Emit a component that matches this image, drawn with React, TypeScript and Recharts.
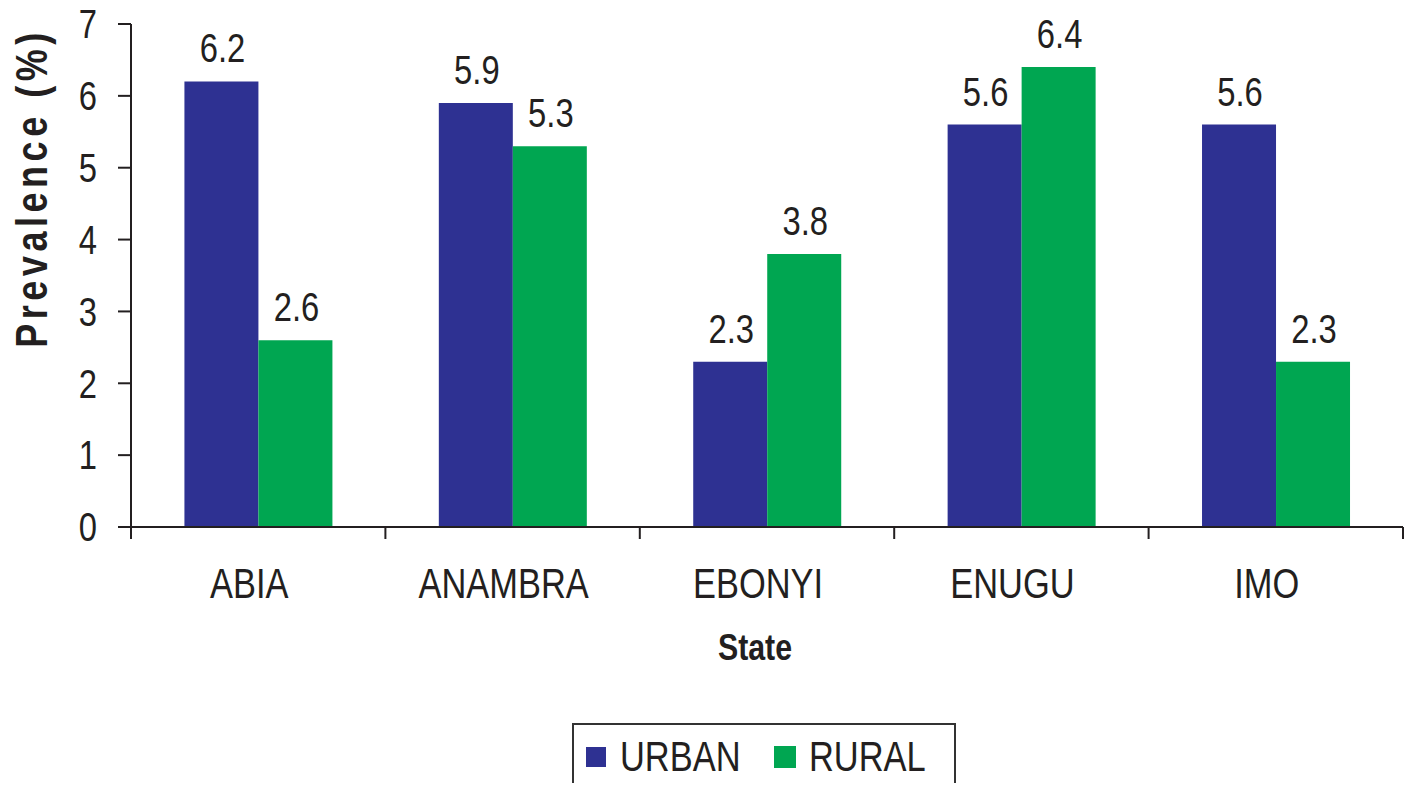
import { BarChart, Bar, XAxis, YAxis, LabelList } from "recharts";

const categories = ["ABIA", "ANAMBRA", "EBONYI", "ENUGU", "IMO"];
const urbanValues = [6.2, 5.9, 2.3, 5.6, 5.6];
const ruralValues = [2.6, 5.3, 3.8, 6.4, 2.3];
const yTicks = [0, 1, 2, 3, 4, 5, 6, 7];

const chartData = categories.map((state, i) => ({
  state,
  urban: urbanValues[i],
  rural: ruralValues[i],
}));

const INK = "#231f20";
const URBAN = "#2e3192";
const RURAL = "#00a651";
const FONT = "'Liberation Sans', Arial, sans-serif";
// the original uses a condensed face, so text is squeezed horizontally
const SQUEEZE = 0.82;

const Squeezed = ({ x, y, anchor = "middle", dy, size, bold, rotate, spacing, children }: any) => (
  <text
    transform={`translate(${x}, ${y})${rotate ? ` rotate(${rotate})` : ""} scale(${SQUEEZE}, 1)`}
    textAnchor={anchor}
    dy={dy}
    fill={INK}
    fontSize={size}
    fontWeight={bold ? "bold" : "normal"}
    letterSpacing={spacing}
    fontFamily={FONT}
  >
    {children}
  </text>
);

const StateTick = (props: any) => {
  const { x, y, payload, index, visibleTicksCount, width } = props;
  const half = payload.offset ?? width / (2 * visibleTicksCount);
  return (
    <g>
      <line x1={x - half} x2={x - half} y1={y} y2={y + 12} stroke={INK} strokeWidth={2} />
      {index === visibleTicksCount - 1 && (
        <line x1={x + half} x2={x + half} y1={y} y2={y + 12} stroke={INK} strokeWidth={2} />
      )}
      <Squeezed x={x - 9} y={y + 41} dy="0.71em" size={42}>
        {payload.value}
      </Squeezed>
    </g>
  );
};

const ValueTick = (props: any) => {
  const { x, y, payload } = props;
  return (
    <Squeezed x={x} y={y} anchor="end" dy="0.355em" size={40}>
      {payload.value}
    </Squeezed>
  );
};

const BarValue = (props: any) => {
  const { x, y, width, value } = props;
  return (
    <Squeezed x={x + width / 2 + 1} y={y - 19} size={40}>
      {value}
    </Squeezed>
  );
};

const YTitle = (props: any) => {
  const { viewBox } = props;
  return (
    <Squeezed x={viewBox.x + 39} y={viewBox.y + 164} rotate={-90} size={44} bold spacing={5.5}>
      Prevalence (%)
    </Squeezed>
  );
};

const XTitle = (props: any) => {
  const { viewBox } = props;
  return (
    <Squeezed x={viewBox.x + viewBox.width / 2 - 12} y={viewBox.y + 133} size={37} bold>
      State
    </Squeezed>
  );
};

const legendItems = [
  { name: "URBAN", color: URBAN, swatch: 12, text: 46, size: 20 },
  { name: "RURAL", color: RURAL, swatch: 200, text: 235, size: 22 },
];

const LegendBox = () => (
  <div
    style={{
      position: "absolute",
      left: 564,
      top: 715,
      width: 384,
      height: 90,
      border: "2px solid #333",
      boxSizing: "border-box",
      fontFamily: FONT,
      fontSize: 42,
      color: INK,
    }}
  >
    {legendItems.map((item) => (
      <div key={item.name}>
        <span
          style={{
            position: "absolute",
            left: item.swatch,
            top: 32 - item.size / 2,
            width: item.size,
            height: item.size,
            background: item.color,
          }}
        />
        <span
          style={{
            position: "absolute",
            left: item.text,
            top: 32,
            lineHeight: "48px",
            marginTop: -24,
            whiteSpace: "nowrap",
            transform: `scaleX(${SQUEEZE})`,
            transformOrigin: "left center",
          }}
        >
          {item.name}
        </span>
      </div>
    ))}
  </div>
);

export default function App() {
  return (
    <div style={{ position: "relative", width: 1406, height: 783, marginBottom: -8, overflow: "hidden", background: "#fff" }}>
      <BarChart
        width={1406}
        height={783}
        data={chartData}
        margin={{ top: 16, right: 11, left: 0, bottom: 0 }}
        barCategoryGap="21%"
        barGap={0}
      >
        <XAxis
          dataKey="state"
          height={264}
          stroke={INK}
          strokeWidth={2}
          tickLine={false}
          tickSize={0}
          tickMargin={0}
          interval={0}
          tick={<StateTick />}
          label={<XTitle />}
        />
        <YAxis
          width={123}
          domain={[0, 7]}
          ticks={yTicks}
          interval={0}
          stroke={INK}
          strokeWidth={2}
          tickSize={13}
          tickMargin={21}
          tick={<ValueTick />}
          label={<YTitle />}
        />
        <Bar dataKey="urban" name="URBAN" fill={URBAN} isAnimationActive={false}>
          <LabelList dataKey="urban" content={<BarValue />} />
        </Bar>
        <Bar dataKey="rural" name="RURAL" fill={RURAL} isAnimationActive={false}>
          <LabelList dataKey="rural" content={<BarValue />} />
        </Bar>
      </BarChart>
      <LegendBox />
    </div>
  );
}
